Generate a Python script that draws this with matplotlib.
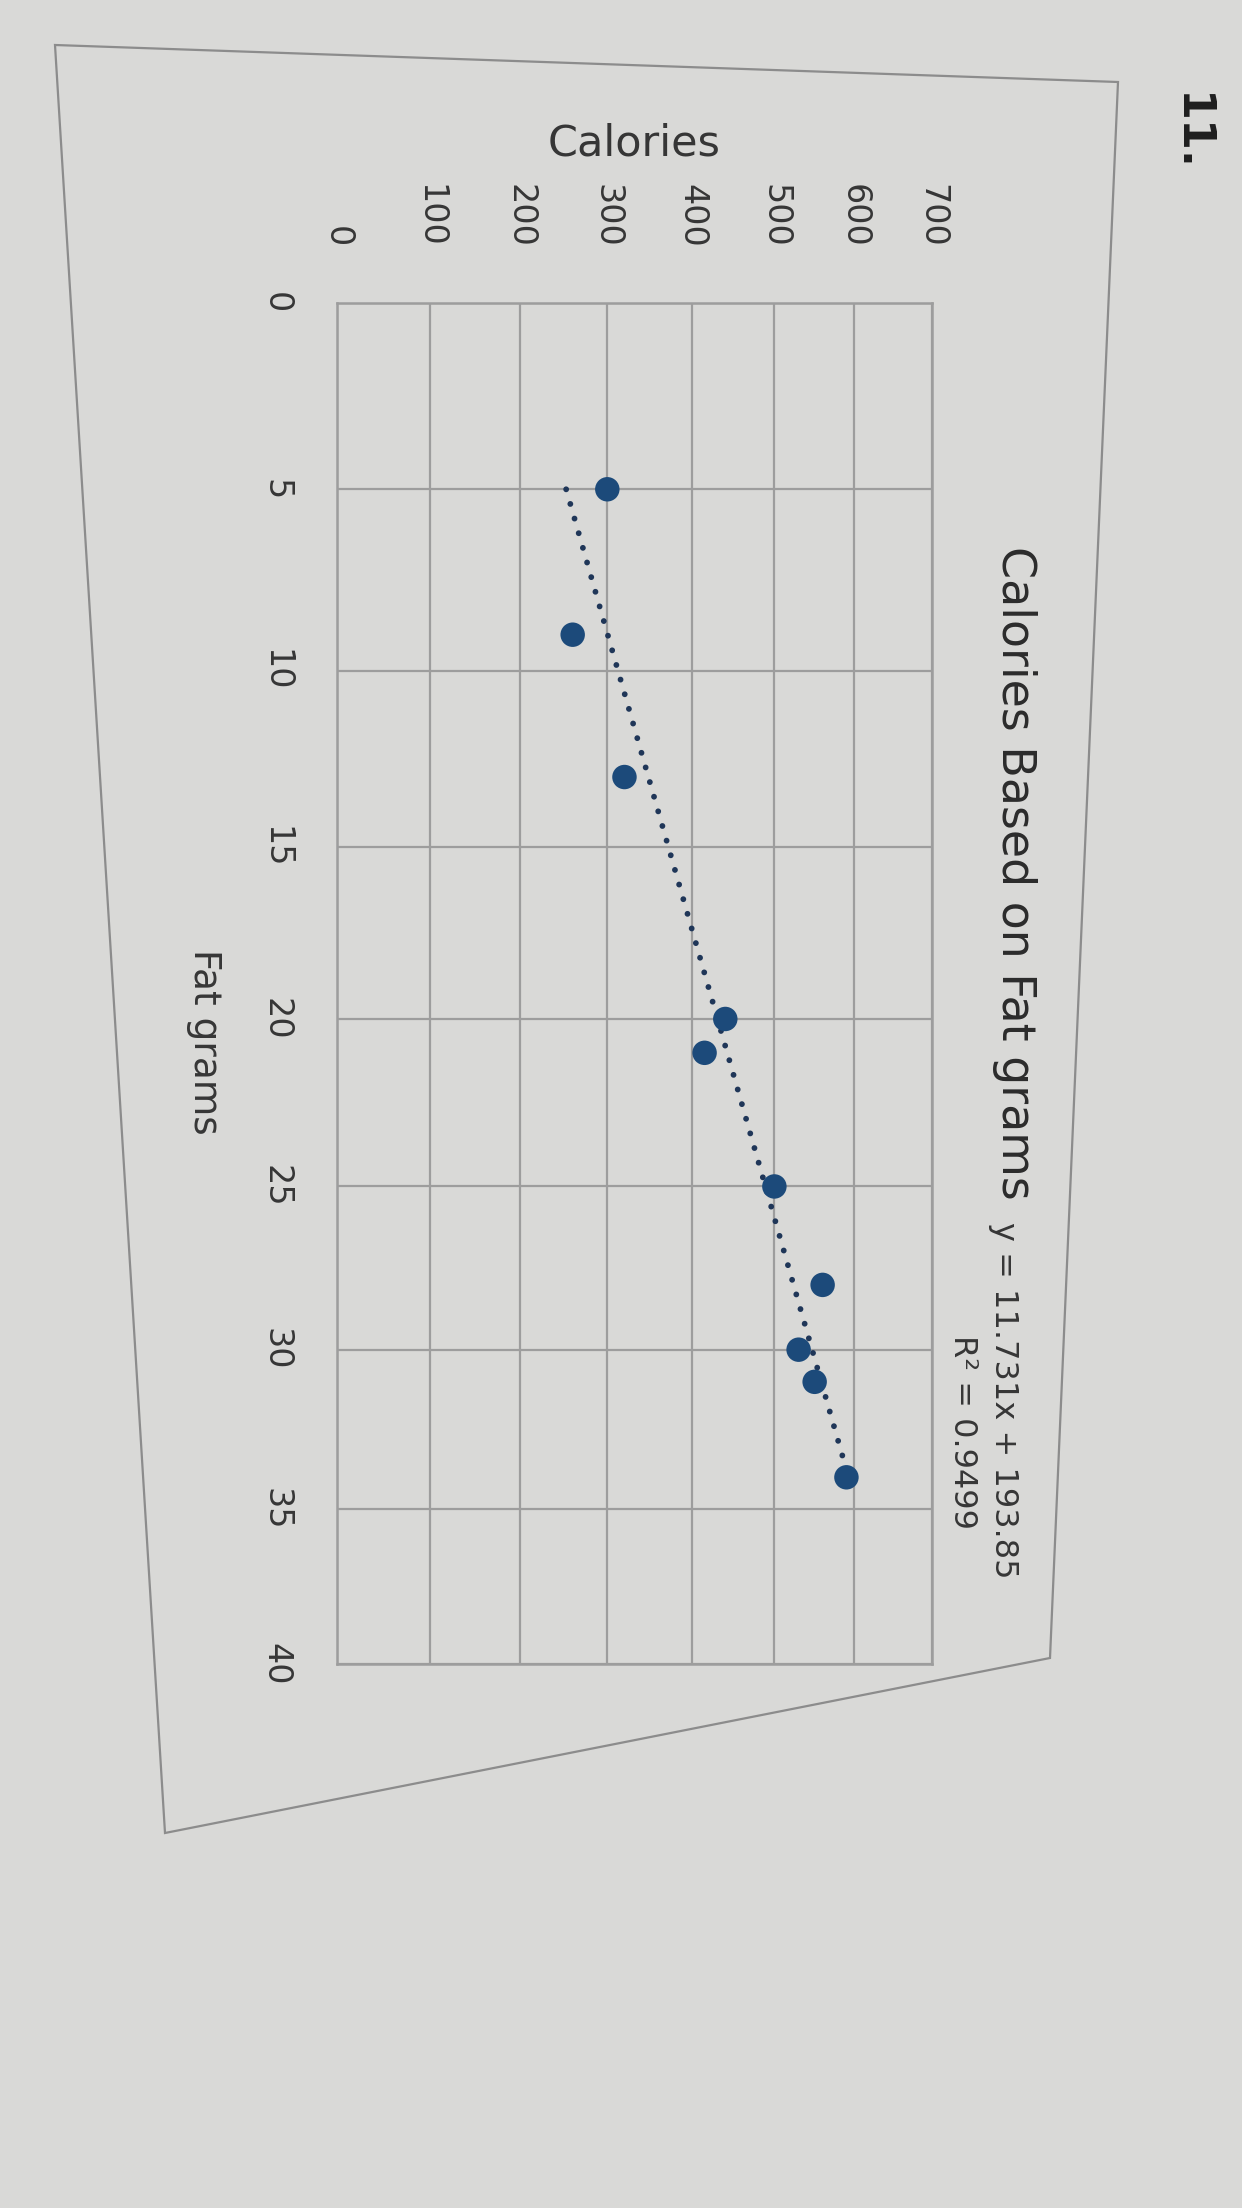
import numpy as np
import matplotlib
matplotlib.use('Agg')
import matplotlib.pyplot as plt
from matplotlib.patches import Polygon

# Points (fat grams, calories)
fat_grams = [5, 9, 13, 20, 21, 25, 28, 30, 31, 34]
calories = [300, 260, 320, 440, 415, 500, 560, 530, 550, 590]

# Excel trendline printed on the chart
slope = 11.731
intercept = 193.85
r_squared = 0.9499

cal_ticks = [0, 100, 200, 300, 400, 500, 600, 700]
fat_ticks = [0, 5, 10, 15, 20, 25, 30, 35, 40]

W, H = 1242, 2208
fig = plt.figure(figsize=(W / 100, H / 100), dpi=100)
fig.patch.set_facecolor('#d9d9d7')


def px(x, y):
    # pixel position measured from the top-left of the photo -> figure fraction
    return x / W, 1 - y / H


def persp(vmax, b=0.11):
    # the photo is taken at an angle, far cells look smaller
    c = b / vmax
    fwd = lambda v: np.asarray(v, float) / (1 + c * np.asarray(v, float))
    inv = lambda u: np.asarray(u, float) / (1 - c * np.asarray(u, float))
    return fwd, inv


grid_col = '#9d9d9d'
dot_col = '#1c4a7a'
txt_col = '#363636'

# page is turned a quarter turn: calories run left->right, fat grams top->bottom
ax = fig.add_axes([337 / W, 1 - 1664 / H, (932 - 337) / W, (1664 - 303) / H])
ax.set_facecolor('none')
ax.set_xscale('function', functions=persp(700))
ax.set_yscale('function', functions=persp(40))
ax.set_xlim(0, 700)
ax.set_ylim(40, 0)
ax.set_xticks(cal_ticks)
ax.set_yticks(fat_ticks)
ax.xaxis.tick_top()
ax.xaxis.set_label_position('top')
ax.grid(True, color=grid_col, lw=1.6)
ax.set_axisbelow(True)
for s in ax.spines.values():
    s.set_color(grid_col)
    s.set_linewidth(1.8)

ax.tick_params(length=0, labelsize=24, labelcolor=txt_col)
ax.tick_params(axis='x', labelrotation=-90, pad=40)
ax.tick_params(axis='y', labelrotation=-90, pad=32)
for lbl in ax.get_yticklabels():
    lbl.set_verticalalignment('center')

# trendline between the smallest and largest fat value
fit_fat = np.array([min(fat_grams), max(fat_grams)])
ax.plot(slope * fit_fat + intercept, fit_fat, color='#1f3658', lw=4.2,
        linestyle=(0, (0.01, 2.6)), dash_capstyle='round', zorder=2)
ax.scatter(calories, fat_grams, s=310, color=dot_col, edgecolors='none', zorder=3)

ax.set_xlabel('Calories', fontsize=31, color=txt_col, labelpad=20)

fig.text(*px(204, 1042), 'Fat grams', rotation=-90, ha='center', va='center',
         fontsize=27, color=txt_col)
fig.text(*px(1014, 873), 'Calories Based on Fat grams', rotation=-90,
         ha='center', va='center', fontsize=33, color='#2b2b2b')
fig.text(*px(1003, 1400), f'y = {slope}x + {intercept}', rotation=-90,
         ha='center', va='center', fontsize=23, color=txt_col)
fig.text(*px(962, 1432), f'R\u00b2 = {r_squared}', rotation=-90,
         ha='center', va='center', fontsize=23, color=txt_col)
fig.text(*px(1190, 132), '11.', rotation=-90, ha='center', va='center',
         fontsize=32, fontweight='bold', color='#1e1e1e')

# chart area border of the printed chart
frame = Polygon([px(55, 45), px(1118, 82), px(1050, 1658), px(165, 1833)],
                closed=True, fill=False, ec='#8c8c8c', lw=1.6,
                transform=fig.transFigure)
fig.add_artist(frame)

fig.savefig('out.png', dpi=100, facecolor=fig.get_facecolor())
